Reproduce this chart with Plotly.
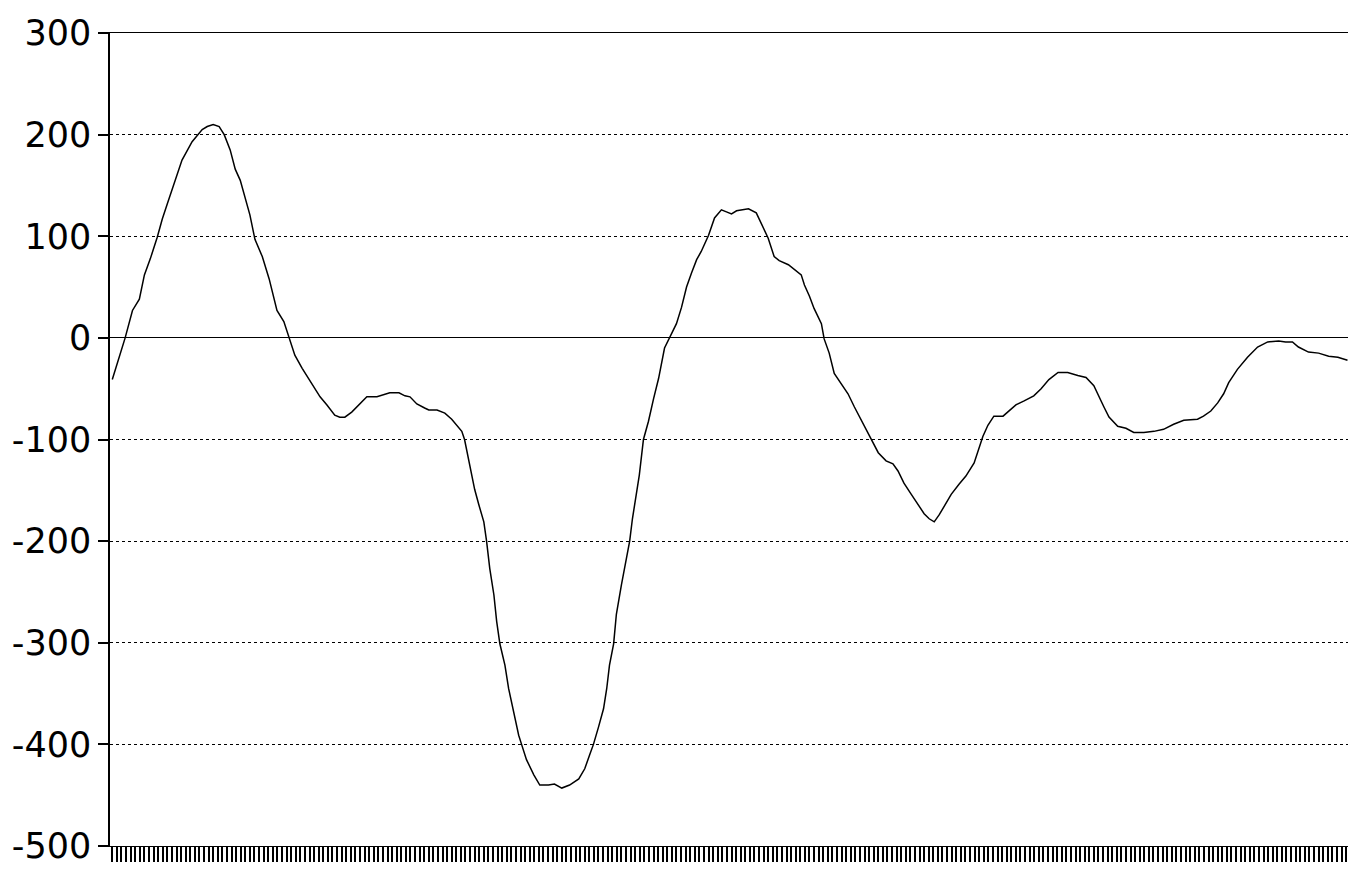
import plotly.graph_objects as go

# sample positions (index along the x axis, ~270 samples) and values
samples = [0.0, 2.8, 4.4, 5.9, 7.0, 8.3, 9.8, 10.9, 12.0, 13.1, 14.2, 15.2, 17.4, 19.6, 20.7, 22.0,
           23.3, 24.4, 25.7, 26.8, 27.9, 29.0, 30.0, 31.1, 32.7, 34.2, 35.3, 35.9, 37.4, 38.5, 39.8,
           41.4, 42.5, 44.2, 45.3, 46.8, 48.5, 49.6, 50.7, 52.2, 54.0, 55.5, 57.7, 59.2, 60.5, 62.5,
           63.8, 64.9, 66.4, 68.1, 69.0, 70.8, 72.5, 74.0, 75.1, 76.2, 76.8, 77.7, 78.4, 79.0, 79.9,
           81.0, 81.6, 82.3, 83.2, 83.8, 84.5, 85.6, 86.4, 87.5, 88.6, 89.3, 90.3, 91.9, 93.2, 95.1,
           96.4, 98.0, 99.7, 101.7, 103.0, 104.1, 104.9, 106.0, 107.1, 107.8, 108.4, 109.3, 109.9,
           111.0, 111.9, 112.8, 113.4, 114.3, 114.9, 115.8, 116.9, 118.0, 119.1, 120.4, 121.9, 123.0,
           124.1, 125.2, 126.3, 127.4, 128.4, 130.0, 131.3, 132.8, 133.9, 135.0, 136.1, 137.2, 138.7,
           140.4, 141.5, 143.0, 144.3, 145.4, 147.4, 149.1, 150.2, 150.9, 152.0, 153.0, 154.6, 155.2,
           156.3, 157.4, 158.9, 160.4, 161.8, 163.3, 164.8, 165.9, 167.0, 168.7, 170.2, 171.3, 172.6,
           174.2, 175.7, 177.0, 178.1, 179.2, 180.3, 181.3, 182.9, 184.6, 186.1, 187.9, 188.7, 189.8,
           190.9, 192.2, 194.2, 195.3, 197.0, 198.8, 200.9, 202.5, 204.2, 206.2, 208.3, 210.5, 212.3,
           214.0, 215.1, 216.2, 217.3, 219.2, 221.0, 222.7, 224.9, 227.1, 229.2, 231.4, 233.6, 236.6,
           237.9, 239.5, 241.0, 242.3, 243.4, 245.3, 247.5, 249.7, 251.9, 254.3, 255.8, 257.3, 258.6,
           260.8, 263.0, 265.2, 267.2, 269.3]
values = [-41, 0, 27, 38, 62, 78, 99, 117, 132, 147, 163, 175, 193, 205, 208, 210,
          208, 200, 185, 166, 155, 137, 121, 97, 80, 58, 38, 27, 16, 1, -17,
          -30, -38, -50, -58, -66, -76, -78, -78, -73, -65, -58, -58, -56, -54, -54,
          -57, -58, -65, -69, -71, -71, -74, -80, -86, -92, -100, -119, -135, -149, -164,
          -181, -200, -227, -253, -279, -301, -322, -345, -368, -391, -401, -415, -430, -440, -440,
          -439, -443, -440, -434, -424, -410, -400, -383, -365, -345, -322, -301, -272,
          -243, -220, -200, -178, -154, -135, -100, -82, -60, -40, -10, 4, 14,
          30, 50, 64, 77, 85, 101, 118, 126, 124, 122, 125, 126, 127,
          123, 113, 98, 80, 76, 72, 66, 62, 52, 41, 29, 14, -1,
          -15, -35, -45, -55, -68, -81, -94, -104, -113, -121, -124, -131, -143,
          -154, -164, -173, -178, -181, -174, -166, -154, -144, -136, -123, -111, -97,
          -86, -77, -77, -73, -66, -62, -57, -50, -41, -34, -34, -37, -39,
          -47, -58, -68, -78, -87, -89, -93, -93, -92, -90, -85, -81, -80,
          -77, -72, -64, -55, -44, -31, -19, -9, -4, -3, -4, -4, -9,
          -14, -15, -18, -19, -22]

y_ticks = [300, 200, 100, 0, -100, -200, -300, -400, -500]
y_labels = ["300", "200", "100", "0", "-100", "-200", "-300", "-400", "-500"]

fig = go.Figure()
fig.add_trace(go.Scatter(x=samples, y=values, mode="lines",
                         line=dict(color="black", width=1.5), hoverinfo="skip",
                         showlegend=False))

fig.update_layout(
    width=1346, height=864,
    margin=dict(l=102, r=1, t=25, b=26),
    paper_bgcolor="white", plot_bgcolor="white",
    font=dict(family="DejaVu Sans, Arial, sans-serif", color="black"),
)
fig.update_yaxes(
    range=[-500, 300], tickvals=y_ticks, ticktext=y_labels, automargin=False,
    tickfont=dict(size=35, family="DejaVu Sans, Arial, sans-serif", color="black"),
    ticks="outside", ticklen=10, tickwidth=1.5, tickcolor="black",
    showgrid=True, gridcolor="black", gridwidth=1, griddash="dot",
    zeroline=True, zerolinecolor="black", zerolinewidth=1.2,
    showline=True, linecolor="black", linewidth=1.5, mirror=True,
)
fig.update_xaxes(
    range=[-0.5, 270.5], tick0=0, dtick=1, automargin=False,
    ticks="outside", ticklen=15, tickwidth=1.5, tickcolor="black",
    showticklabels=False, showgrid=False, zeroline=False,
    showline=True, linecolor="black", linewidth=1, mirror=True,
)

fig.write_html("out.html")
